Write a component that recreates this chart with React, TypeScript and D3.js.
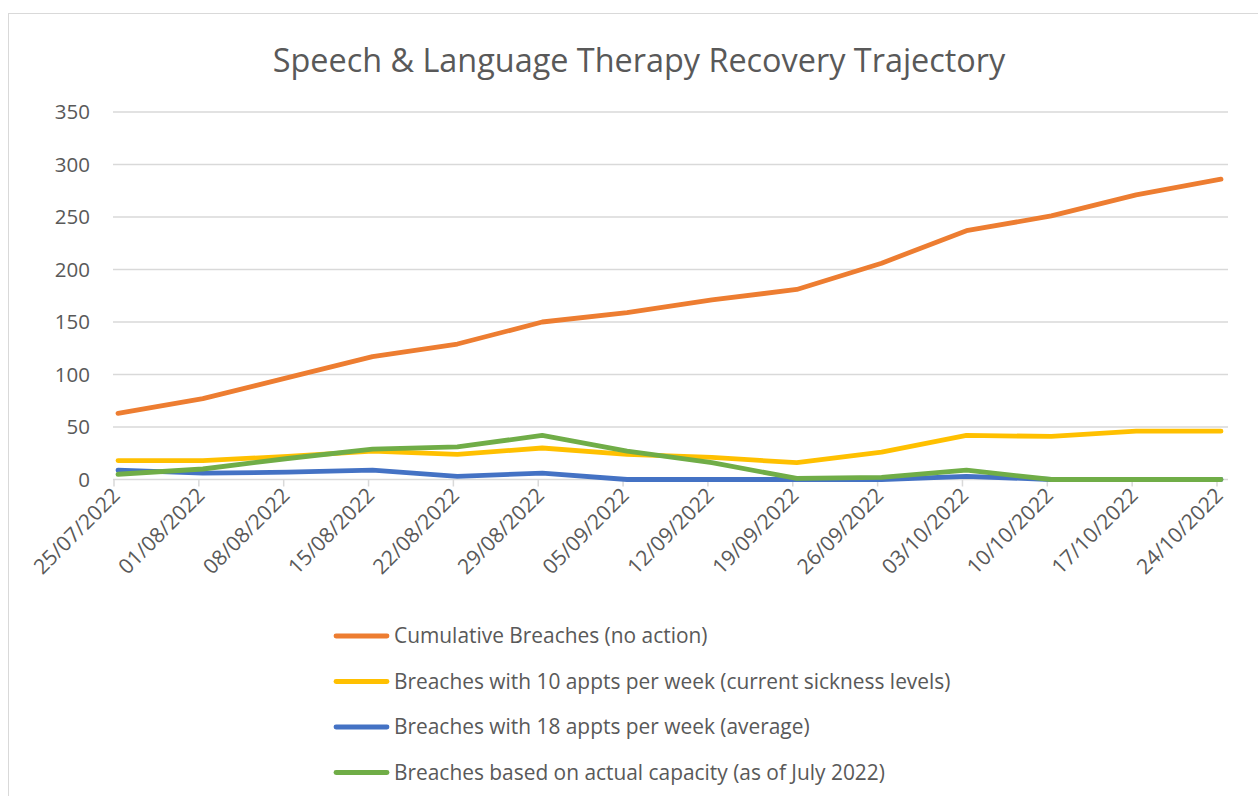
import React from "react";
import * as d3 from "d3";

const categories = [
  "25/07/2022", "01/08/2022", "08/08/2022", "15/08/2022", "22/08/2022", "29/08/2022", "05/09/2022",
  "12/09/2022", "19/09/2022", "26/09/2022", "03/10/2022", "10/10/2022", "17/10/2022", "24/10/2022",
];
const cumulative = [63, 77, 97, 117, 129, 150, 159, 171, 181, 206, 237, 251, 271, 286];
const appts10 = [18, 18, 22, 27, 24, 30, 24, 21, 16, 26, 42, 41, 46, 46];
const appts18 = [9, 6, 7, 9, 3, 6, 0, 0, 0, 0, 3, 0, 0, 0];
const actual = [5, 10, 20, 29, 31, 42, 27, 16, 1, 2, 9, 0, 0, 0];
const yTicks = [0, 50, 100, 150, 200, 250, 300, 350];

const seriesNames = [
  "Cumulative Breaches (no action)",
  "Breaches with 10 appts per week (current sickness levels)",
  "Breaches with 18 appts per week (average)",
  "Breaches based on actual capacity (as of July 2022)",
];
const seriesValues = [cumulative, appts10, appts18, actual];
const colors = ["#ED7D31", "#FFC000", "#4472C4", "#70AD47"];

const W = 1258;
const H = 796;
const FONT = "'Open Sans', 'DejaVu Sans', sans-serif";
const TXT = "#595959";

export default function App() {
  const x = d3.scalePoint<number>().domain(d3.range(categories.length)).range([118, 1221]);
  const y = d3.scaleLinear().domain([0, 350]).range([479.5, 112]);
  const line = d3
    .line<number>()
    .x((_, i) => x(i) as number)
    .y((d) => y(d));

  return (
    <svg
      width={W}
      height={H}
      style={{ position: "absolute", left: 0, top: 0, background: "#fff" }}
      fontFamily={FONT}
    >
      <rect x={8.5} y={13.5} width={1300} height={900} fill="#fff" stroke="#D9D9D9" strokeWidth={1} />
      <text x={639} y={72} textAnchor="middle" fontSize={32.4} fill={TXT}>
        Speech &amp; Language Therapy Recovery Trajectory
      </text>

      {yTicks.map((t) => (
        <g key={t}>
          <line x1={113} x2={1228} y1={y(t)} y2={y(t)} stroke="#D9D9D9" strokeWidth={1.5} />
          <text x={90} y={y(t)} dy="0.35em" textAnchor="end" fontSize={20.5} fill={TXT}>
            {t}
          </text>
        </g>
      ))}

      {categories.map((c, i) => (
        <g key={c}>
          <line x1={(x(i) as number) - 4} x2={(x(i) as number) - 4} y1={y(0)} y2={y(0) + 7} stroke="#D9D9D9" strokeWidth={1.5} />
          <text
            transform={`translate(${(x(i) as number) - 2},${y(0) + 12}) rotate(-45)`}
            textAnchor="end"
            dy="0.35em"
            fontSize={21}
            fill={TXT}
          >
            {c}
          </text>
        </g>
      ))}

      {seriesValues.map((vals, k) => (
        <path
          key={k}
          d={line(vals) || ""}
          fill="none"
          stroke={colors[k]}
          strokeWidth={4.8}
          strokeLinecap="round"
          strokeLinejoin="round"
        />
      ))}

      {seriesNames.map((n, k) => {
        const ly = 636 + k * 45.5;
        return (
          <g key={n}>
            <line x1={336} x2={387} y1={ly} y2={ly} stroke={colors[k]} strokeWidth={4.8} strokeLinecap="round" />
            <text x={394} y={ly} dy="0.35em" fontSize={20.9} fill={TXT}>
              {n}
            </text>
          </g>
        );
      })}
    </svg>
  );
}
